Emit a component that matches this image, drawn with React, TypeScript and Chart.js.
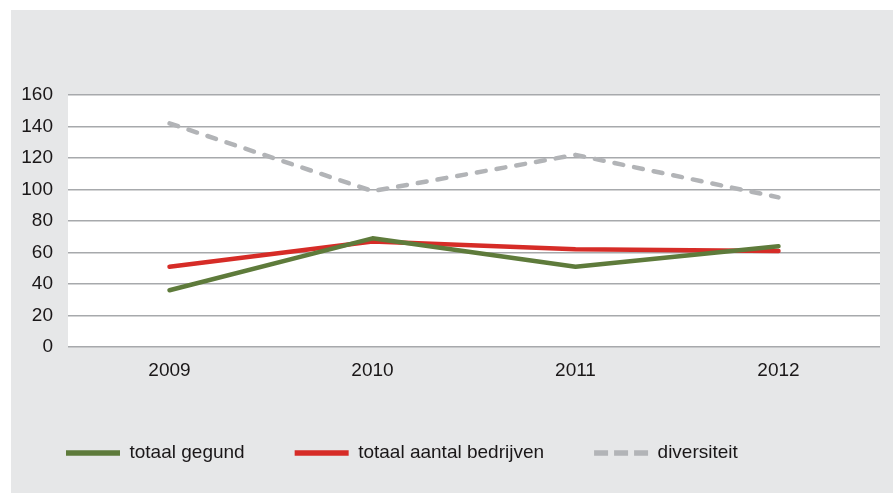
import React, { useEffect, useRef } from "react";
import { Chart, registerables } from "chart.js";

Chart.register(...registerables);

const years = ["2009", "2010", "2011", "2012"];
const totaalGegund = [36, 69, 51, 64];
const totaalAantalBedrijven = [51, 67, 62, 61];
const diversiteit = [142, 99, 122, 95];
const yTicks = [0, 20, 40, 60, 80, 100, 120, 140, 160];

const GREEN = "#5e7b3b";
const RED = "#d62c27";
const GRAY = "#b2b4b7";
const GRID = "#a7a9ac";
const TEXT = "#1a1718";
const PANEL_W = 882;
const PANEL_H = 483;
const LEGEND_PAD = 50;
const LEGEND_FONT = 19;

export default function App() {
  const ref = useRef<HTMLCanvasElement | null>(null);

  useEffect(() => {
    document.body.style.margin = "0";
    const canvas = ref.current;
    if (!canvas) return;

    const plotBg = {
      id: "plotBg",
      beforeDraw(chart: any) {
        const { ctx, chartArea } = chart;
        ctx.save();
        ctx.fillStyle = "#ffffff";
        ctx.fillRect(chartArea.left, chartArea.top, chartArea.right - chartArea.left, chartArea.bottom - chartArea.top);
        ctx.restore();
      },
    };

    const legendPlace = {
      id: "legendPlace",
      afterLayout(chart: any) {
        const lg = chart.legend;
        if (!lg) return;
        const w = lg.width;
        const h = lg.height;
        lg.left = 55 - LEGEND_PAD;
        lg.right = lg.left + w;
        lg.top = 443 - LEGEND_PAD - LEGEND_FONT / 2;
        lg.bottom = lg.top + h;
      },
    };

    const chart = new Chart(canvas, {
      type: "line",
      data: {
        labels: years,
        datasets: [
          {
            label: "totaal gegund",
            data: totaalGegund,
            borderColor: GREEN,
            backgroundColor: GREEN,
            borderWidth: 4.5,
            pointRadius: 0,
            borderCapStyle: "round",
            borderJoinStyle: "round",
            tension: 0,
          },
          {
            label: "totaal aantal bedrijven",
            data: totaalAantalBedrijven,
            borderColor: RED,
            backgroundColor: RED,
            borderWidth: 4.5,
            pointRadius: 0,
            borderCapStyle: "round",
            borderJoinStyle: "round",
            tension: 0,
          },
          {
            label: "diversiteit",
            data: diversiteit,
            borderColor: GRAY,
            backgroundColor: GRAY,
            borderWidth: 4.5,
            borderDash: [9, 11],
            pointRadius: 0,
            borderCapStyle: "round",
            borderJoinStyle: "round",
            tension: 0,
          },
        ],
      },
      options: {
        animation: false,
        responsive: false,
        maintainAspectRatio: false,
        layout: { padding: { left: 0, right: 13, top: 85, bottom: 0 } },
        plugins: {
          tooltip: { enabled: false },
          legend: {
            display: true,
            position: "bottom",
            align: "start",
            labels: {
              usePointStyle: true,
              pointStyleWidth: 54,
              padding: LEGEND_PAD,
              color: TEXT,
              font: { family: "'Liberation Sans', Arial, sans-serif", size: LEGEND_FONT },
              generateLabels(chart: any) {
                const items = Chart.defaults.plugins.legend.labels.generateLabels(chart);
                return items.map((it: any, i: number) => ({
                  ...it,
                  pointStyle: "line",
                  lineWidth: 5.5,
                  lineCap: "butt",
                  lineDash: i === 2 ? [14, 6] : [],
                }));
              },
            },
          },
        },
        scales: {
          x: {
            type: "category",
            offset: true,
            grid: { display: false, drawTicks: false },
            border: { display: false },
            ticks: {
              color: TEXT,
              padding: 12,
              font: { family: "'Liberation Sans', Arial, sans-serif", size: 19 },
            },
            afterFit(s: any) {
              const lh = s.chart.legend ? s.chart.legend.height : 2 * LEGEND_PAD + LEGEND_FONT + 10;
              s.height = PANEL_H - 337 - lh;
            },
          },
          y: {
            min: 0,
            max: 160,
            afterBuildTicks(s: any) {
              s.ticks = yTicks.map((v) => ({ value: v }));
            },
            grid: { color: GRID, lineWidth: 1.4, drawTicks: false },
            border: { display: false },
            ticks: {
              color: TEXT,
              padding: 15,
              font: { family: "'Liberation Sans', Arial, sans-serif", size: 19 },
            },
            afterFit(s: any) {
              s.width = 57;
            },
          },
        },
      },
      plugins: [plotBg, legendPlace],
    });

    return () => chart.destroy();
  }, []);

  return (
    <div
      style={{
        position: "absolute",
        left: 11,
        top: 10,
        width: PANEL_W,
        height: PANEL_H,
        background: "#e6e7e8",
      }}
    >
      <canvas ref={ref} width={PANEL_W} height={PANEL_H} style={{ display: "block" }} />
    </div>
  );
}
